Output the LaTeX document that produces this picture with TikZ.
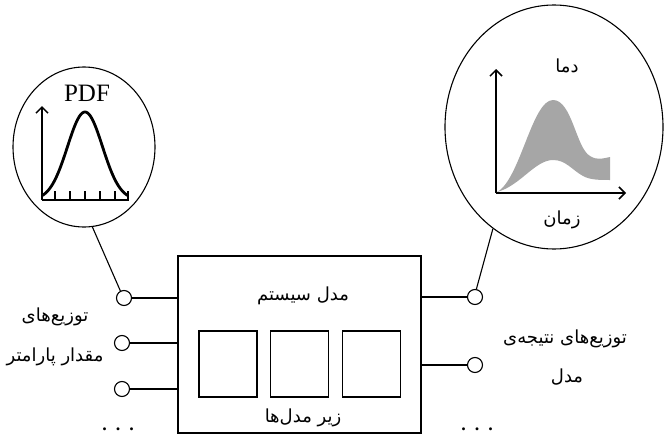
\documentclass[tikz,border=0pt]{standalone}
\usepackage{fontspec}
\setmainfont{Liberation Serif}
\newfontfamily\fafont[Script=Arabic]{DejaVu Sans}
\TeXXeTstate=1
\usetikzlibrary{shapes.geometric,arrows.meta}
\begin{document}
\begin{tikzpicture}[x=1pt,y=-1pt,
  wire/.style={line width=1.1pt},
  port/.style={circle,draw,line width=1.1pt,minimum size=15pt,inner sep=0pt},
  subbox/.style={draw,line width=1.1pt,minimum width=58pt,minimum height=66pt,inner sep=0pt},
  bubble/.style={ellipse,draw,line width=1.1pt,inner sep=0pt},
  axis/.style={line width=1.8pt,-{Straight Barb[length=6pt,width=12pt,line width=1.5pt]}},
  fa/.style={font=\fafont\fontsize{18}{20}\selectfont,inner sep=0pt},
  dots/.style={font=\fontsize{18}{18}\selectfont\bfseries,inner sep=0pt}]
\useasboundingbox (0,0) rectangle (664,439);

% system model and its sub-models
\node[draw,wire,minimum width=243pt,minimum height=177pt,inner sep=0pt] (sys) at (299.5,344.5) {};
\node[subbox] (m1) at (228,364) {};
\node[subbox] (m2) at (299.5,364) {};
\node[subbox] (m3) at (371.5,364) {};
\node[fa] (systitle) at (303,296) {\beginR مدل سیستم\endR};
\node[fa] (subtitle) at (303,418) {\beginR زیر مدل‌ها\endR};

% input ports
\node[port] (in1) at (124,298) {};
\node[port] (in2) at (122,343) {};
\node[port] (in3) at (122,389) {};
\foreach \p in {in1,in2,in3}
  \draw[wire] (\p.east) -- (\p.east -| sys.west);
\node[fa] (inlab1) at (55,317) {\beginR توزیع‌های\endR};
\node[fa] (inlab2) at (55,357) {\beginR مقدار پارامتر\endR};
\node[dots] (indots) at (118,429) {.\,\,\,.\,\,\,.};

% output ports
\node[port] (out1) at (475,297) {};
\node[port] (out2) at (475,365) {};
\foreach \p in {out1,out2}
  \draw[wire] (\p.west -| sys.east) -- (\p.west);
\node[fa] (outlab1) at (565,339) {\beginR توزیع‌های نتیجه‌ی\endR};
\node[fa] (outlab2) at (567,377) {\beginR مدل\endR};
\node[dots] (outdots) at (477,429) {.\,\,\,.\,\,\,.};

% input distribution bubble
\node[bubble,minimum width=142pt,minimum height=160pt] (pdf) at (84,147) {};
\draw[wire] (in1.117) -- (pdf.-84);
\node[inner sep=0pt,font=\fontsize{25}{25}\selectfont] (pdflab) at (87,93) {PDF};
\coordinate (po) at (42,200);
\draw[axis] (po) -- (42,106);
\draw[line width=1.8pt] (po) -- (129,200);
\foreach \t in {55,70,85,100,115,128}
  \draw[line width=1.5pt] (\t,200) -- (\t,191);
\draw[line width=2.8pt,line join=round] plot[domain=42:128,samples=80,smooth]
  (\x,{200-88*exp(-((\x-85)/17.5)^2/2)});

% output distribution bubble
\node[bubble,minimum width=218pt,minimum height=244pt] (res) at (554,127) {};
\draw[wire] (out1.80) -- (res.-121);
\node[fa] (reslab1) at (567,66) {\beginR دما\endR};
\node[fa] (reslab2) at (562,220) {\beginR زمان\endR};
\fill[black!35] (497,192)
  .. controls (520,180) and (532,100) .. (553,100)
  .. controls (572,100) and (576,148) .. (590,156)
  .. controls (598,161) and (604,158) .. (610,157)
  -- (610,180)
  .. controls (600,180) and (590,180) .. (583,176)
  .. controls (572,170) and (566,160) .. (553,160)
  .. controls (535,160) and (520,186) .. (497,192) -- cycle;
\coordinate (ro) at (496,193);
\draw[axis] (ro) -- (496,69);
\draw[axis] (ro) -- (626,193);
\end{tikzpicture}
\end{document}
